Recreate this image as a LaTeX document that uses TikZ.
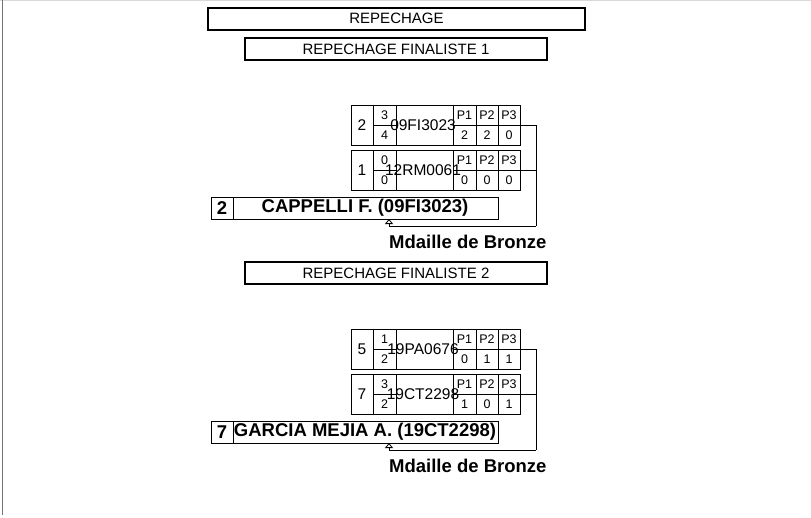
\documentclass[tikz,border=0pt]{standalone}
\usepackage{fontspec}
\setmainfont{Liberation Sans}
\usetikzlibrary{arrows.meta}
\tikzset{
  titlebox/.style={draw, line width=2pt, minimum width=377pt, minimum height=22pt, inner sep=0pt, font=\fontsize{15}{18}\selectfont},
  subbox/.style={draw, line width=2pt, minimum width=302pt, minimum height=22pt, inner sep=0pt, font=\fontsize{15}{18}\selectfont},
  cell/.style={line width=1pt},
  bigtxt/.style={inner sep=0pt, font=\fontsize{15.5}{18}\selectfont},
  smalltxt/.style={inner sep=0pt, font=\fontsize{12.5}{14}\selectfont},
  wintxt/.style={inner sep=0pt, font=\fontsize{18.5}{21}\bfseries},
  link/.style={line width=1pt},
  tip/.style={-{Triangle[open,length=5pt,width=8pt,line width=0.8pt]}}
}
\newcommand\MRow[9]{%
  \draw[cell] (351,#1) rectangle (520,#1+40);
  \foreach \xx in {373,396,453,476,498} {\draw[cell] (\xx,#1) -- (\xx,#1+40);}
  \draw[cell] (373,#1+20) -- (396,#1+20);
  \draw[cell] (453,#1+20) -- (520,#1+20);
  \node[bigtxt] (#9s) at (362,#1+20) {#2};
  \node[smalltxt] (#9t) at (384.5,#1+10) {#3};
  \node[smalltxt] (#9b) at (384.5,#1+30) {#4};
  \node[bigtxt] (#9n) at (423,#1+20) {#5};
  \node[smalltxt] (#9p1) at (464.5,#1+10) {P1};
  \node[smalltxt] (#9p2) at (487,#1+10) {P2};
  \node[smalltxt] (#9p3) at (509,#1+10) {P3};
  \node[smalltxt] (#9v1) at (464.5,#1+30) {#6};
  \node[smalltxt] (#9v2) at (487,#1+30) {#7};
  \node[smalltxt] (#9v3) at (509,#1+30) {#8};
  \coordinate (#9) at (520,#1+20);
}
\newcommand\WinBox[4]{% #1 top y, #2 seed, #3 name, #4 id
  \draw[cell] (211,#1) rectangle (498,#1+22);
  \draw[cell] (233,#1) -- (233,#1+22);
  \node[wintxt] (#4s) at (222,#1+11) {#2};
  \node[wintxt] (#4n) at (365,#1+11) {#3};
  \coordinate (#4a) at (389,#1+22);
}
\begin{document}
\begin{tikzpicture}[x=1pt,y=-1pt]
\useasboundingbox (0,0) rectangle (811,517);
\draw[line width=1pt, black!15] (0,0.5) -- (811,0.5);
\draw[line width=1.5pt, black!55] (2.5,0) -- (2.5,515);

\node[titlebox] (title) at (396.5,18.5) {REPECHAGE};
\node[subbox] (fin1) at (396,49) {REPECHAGE FINALISTE 1};
\node[subbox] (fin2) at (396,273) {REPECHAGE FINALISTE 2};

\MRow{105}{2}{3}{4}{09FI3023}{2}{2}{0}{ma}
\MRow{150}{1}{0}{0}{12RM0061}{0}{0}{0}{mb}
\WinBox{197}{2}{CAPPELLI F. (09FI3023)}{wa}
\coordinate (ja) at (536,226);
\draw[link] (ma) -| (ja);
\draw[link] (mb) -- (mb -| ja);
\draw[link,tip] (ja) -| (waa);
\node[wintxt, anchor=west] (bra) at (389,242) {Mdaille de Bronze};

\MRow{329}{5}{1}{2}{19PA0676}{0}{1}{1}{mc}
\MRow{374}{7}{3}{2}{19CT2298}{1}{0}{1}{md}
\WinBox{421}{7}{GARCIA MEJIA A. (19CT2298)}{wb}
\coordinate (jb) at (536,450);
\draw[link] (mc) -| (jb);
\draw[link] (md) -- (md -| jb);
\draw[link,tip] (jb) -| (wba);
\node[wintxt, anchor=west] (brb) at (389,466) {Mdaille de Bronze};
\end{tikzpicture}
\end{document}
